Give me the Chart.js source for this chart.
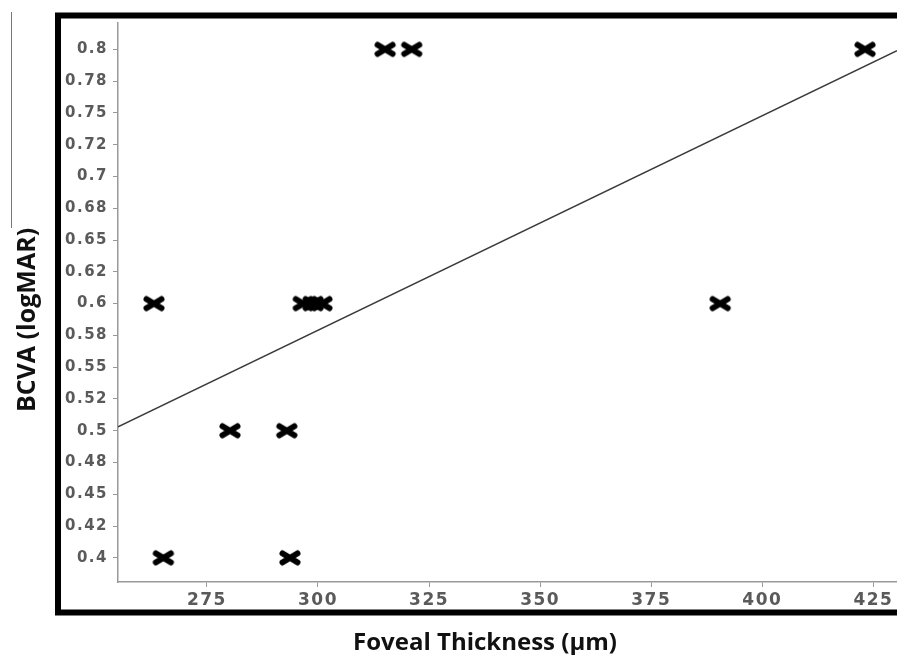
<!DOCTYPE html>
<html>
<head>
<meta charset="utf-8">
<script src="https://cdn.jsdelivr.net/npm/chart.js@4.4.1/dist/chart.umd.min.js"></script>
<style>
  html, body { margin: 0; padding: 0; background: #fff; }
  #chart { display: block; }
</style>
</head>
<body>
<canvas id="chart" width="897" height="655"></canvas>
<script>
// data
const fovealThickness = [263.1, 265.2, 280.2, 293.0, 293.7, 296.7, 298.9, 300.9, 315.1, 321.1, 390.5, 423.1];
const bcva = [0.6, 0.4, 0.5, 0.5, 0.4, 0.6, 0.6, 0.6, 0.8, 0.8, 0.6, 0.8];

// fitted line, end points as drawn
const fitX = [255.0, 430.3];
const fitY = [0.503, 0.799];

const xTicks = [275, 300, 325, 350, 375, 400, 425];
const yTicks = [0.4, 0.425, 0.45, 0.475, 0.5, 0.525, 0.55, 0.575, 0.6, 0.625, 0.65, 0.675, 0.7, 0.725, 0.75, 0.775, 0.8];
const yTickLabels = ["0.4", "0.42", "0.45", "0.48", "0.5", "0.52", "0.55", "0.58", "0.6", "0.62", "0.65", "0.68", "0.7", "0.72", "0.75", "0.78", "0.8"];

// bold x marker, a bit wider than tall like the original
function makeCross() {
    const c = document.createElement("canvas");
    c.width = 24;
    c.height = 18;
    const g = c.getContext("2d");
    g.strokeStyle = "#000";
    g.lineWidth = 6;
    g.lineCap = "round";
    g.beginPath();
    g.moveTo(4.5, 4.5); g.lineTo(19.5, 13.5);
    g.moveTo(19.5, 4.5); g.lineTo(4.5, 13.5);
    g.stroke();
    return c;
}

const spacing = {
    id: "spacing",
    beforeLayout(chart) { chart.ctx.letterSpacing = "1.5px"; },
    beforeDraw(chart) { chart.ctx.letterSpacing = "1.5px"; }
};

const decor = {
    id: "decor",
    afterDraw(chart) {
        const ctx = chart.ctx;
        ctx.save();
        ctx.letterSpacing = "0px";

        // thick frame, open on the right
        ctx.strokeStyle = "#000";
        ctx.lineWidth = 6;
        ctx.beginPath();
        ctx.moveTo(897, 15.5);
        ctx.lineTo(58, 15.5);
        ctx.lineTo(58, 612.5);
        ctx.lineTo(897, 612.5);
        ctx.stroke();

        // stray thin line at far left
        ctx.strokeStyle = "#777";
        ctx.lineWidth = 1;
        ctx.beginPath();
        ctx.moveTo(11.5, 12);
        ctx.lineTo(11.5, 228);
        ctx.stroke();

        // axis titles
        ctx.fillStyle = "#111";
        ctx.font = "bold 24px 'Open Sans'";
        ctx.textAlign = "center";
        ctx.textBaseline = "alphabetic";
        ctx.fillText("Foveal Thickness (µm)", 485, 650);

        ctx.translate(35, 320);
        ctx.rotate(-Math.PI / 2);
        ctx.font = "bold 25px 'Open Sans'";
        ctx.fillText("BCVA (logMAR)", 0, 0);
        ctx.restore();
    }
};

const ctx = document.getElementById("chart").getContext("2d");

new Chart(ctx, {
    type: "scatter",
    data: {
        datasets: [
            {
                label: "Patients",
                data: fovealThickness.map((x, i) => ({ x: x, y: bcva[i] })),
                pointStyle: makeCross(),
                pointRadius: 8,
                order: 1
            },
            {
                label: "Fit",
                data: fitX.map((x, i) => ({ x: x, y: fitY[i] })),
                showLine: true,
                borderColor: "#3a3a3a",
                borderWidth: 1.5,
                pointRadius: 0,
                order: 2
            }
        ]
    },
    options: {
        responsive: false,
        animation: false,
        layout: { autoPadding: false, padding: { top: 23, right: 0, left: 0, bottom: 0 } },
        plugins: {
            legend: { display: false },
            tooltip: { enabled: false }
        },
        scales: {
            x: {
                type: "linear",
                min: 255.0,
                max: 430.3,
                afterBuildTicks: s => { s.ticks = xTicks.map(v => ({ value: v })); },
                afterFit: s => { s.height = 73; s.paddingLeft = 0; s.paddingRight = 0; },
                border: { display: true, color: "#999", width: 1.5 },
                grid: { drawOnChartArea: false, drawTicks: true, tickLength: 5, color: "#999" },
                ticks: {
                    color: "#5a5a5a",
                    padding: 3,
                    maxRotation: 0,
                    autoSkip: false,
                    font: { family: "DejaVu Sans", size: 17, weight: "bold" }
                }
            },
            y: {
                type: "linear",
                min: 0.381,
                max: 0.8207,
                afterBuildTicks: s => { s.ticks = yTicks.map(v => ({ value: v })); },
                afterFit: s => { s.width = 118; },
                border: { display: true, color: "#999", width: 1.5 },
                grid: { drawOnChartArea: false, drawTicks: true, tickLength: 5, color: "#999" },
                ticks: {
                    color: "#5a5a5a",
                    padding: 5,
                    autoSkip: false,
                    font: { family: "DejaVu Sans", size: 15, weight: "bold" },
                    callback: (v, i) => yTickLabels[i]
                }
            }
        }
    },
    plugins: [spacing, decor]
});
</script>
</body>
</html>
